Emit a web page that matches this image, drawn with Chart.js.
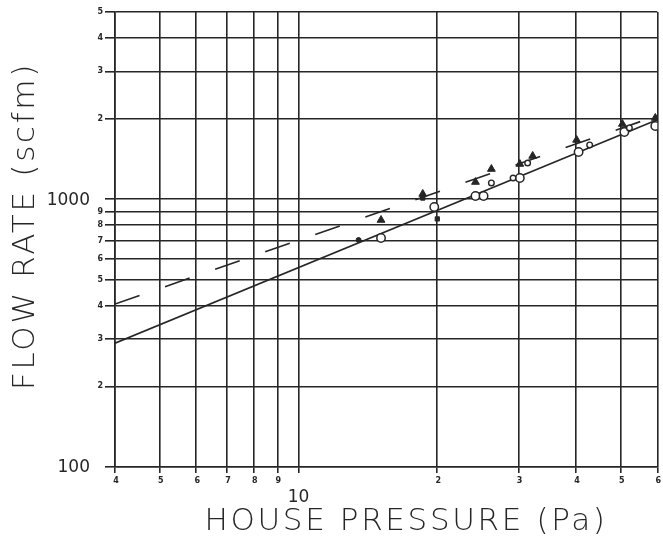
<!DOCTYPE html>
<html>
<head>
<meta charset="utf-8">
<script src="https://cdn.jsdelivr.net/npm/chart.js@4.4.1/dist/chart.umd.min.js"></script>
<style>
  html, body { margin: 0; padding: 0; background: #fff; }
  #wrap { width: 663px; height: 544px; }
</style>
</head>
<body>
<div id="wrap"><canvas id="chart" width="663" height="544"></canvas></div>
<script>
// Log-log flow vs. pressure plot

const xTicks = [4, 5, 6, 7, 8, 9, 10, 20, 30, 40, 50, 60];
const xTickLabels = ['4', '5', '6', '7', '8', '9', '10', '2', '3', '4', '5', '6'];
const yTicks = [100, 200, 300, 400, 500, 600, 700, 800, 900, 1000, 2000, 3000, 4000, 5000];
const yTickLabels = ['100', '2', '3', '4', '5', '6', '7', '8', '9', '1000', '2', '3', '4', '5'];

// fitted lines
const solidX = [4, 60];
const solidY = [290, 1980];
const dashX = [4, 60];
const dashY = [406, 2050];

// measured points
const triX = [15.1, 18.6, 24.2, 26.2, 30.2, 32.2, 40.1, 50.4, 59.4];
const triY = [836, 1046, 1159, 1296, 1353, 1450, 1664, 1909, 2010];
const circX = [15.1, 19.7, 24.2, 25.2, 30.2, 40.5, 50.9, 59.4];
const circY = [716, 935, 1028, 1028, 1200, 1501, 1782, 1876];
const smallCircX = [26.2, 29.2, 31.4, 42.8, 52.2];
const smallCircY = [1150, 1200, 1365, 1594, 1845];
const dotX = [13.5];
const dotY = [704];
const squareX = [18.6, 20.0];
const squareY = [1010, 844];

const INK = '#262626';

function pts(xs, ys) {
  return xs.map((x, i) => ({ x, y: ys[i] }));
}

const labelPlugin = {
  id: 'labels',
  afterDraw(chart) {
    const ctx = chart.ctx;
    const xs = chart.scales.x;
    const ys = chart.scales.y;
    ctx.save();
    ctx.fillStyle = INK;

    // y tick labels
    ctx.textAlign = 'right';
    ctx.textBaseline = 'middle';
    yTicks.forEach((v, i) => {
      const lab = yTickLabels[i];
      const py = ys.getPixelForValue(v);
      if (lab.length > 1) {
        ctx.font = '17px "DejaVu Sans"';
        ctx.fillText(lab, 90, py + 1);
      } else {
        ctx.font = 'bold 8px "DejaVu Sans"';
        ctx.fillText(lab, 103, py);
      }
    });

    // x tick labels
    ctx.textAlign = 'center';
    xTicks.forEach((v, i) => {
      const lab = xTickLabels[i];
      const px = xs.getPixelForValue(v);
      if (lab.length > 1) {
        ctx.font = '17px "DejaVu Sans"';
        ctx.fillText(lab, px, 498);
      } else {
        ctx.font = 'bold 8px "DejaVu Sans"';
        ctx.fillText(lab, px + 1, 481);
      }
    });

    // axis titles
    ctx.font = '300 31px "DejaVu Sans"';
    ctx.textBaseline = 'middle';
    const xt = 'HOUSE PRESSURE (Pa)';
    ctx.letterSpacing = '0px';
    let w = ctx.measureText(xt).width;
    ctx.letterSpacing = ((403 - w) / xt.length).toFixed(2) + 'px';
    ctx.fillText(xt, 406, 522);

    const yt = 'FLOW RATE (scfm)';
    ctx.letterSpacing = '0px';
    w = ctx.measureText(yt).width;
    ctx.letterSpacing = ((328 - w) / yt.length).toFixed(2) + 'px';
    ctx.translate(26, 226);
    ctx.rotate(-Math.PI / 2);
    ctx.fillText(yt, 0, 0);
    ctx.restore();
  }
};

new Chart(document.getElementById('chart'), {
  type: 'scatter',
  data: {
    datasets: [
      {
        data: pts(smallCircX, smallCircY),
        pointStyle: 'circle',
        pointRadius: 2.8,
        pointBorderWidth: 1.4,
        pointBorderColor: INK,
        pointBackgroundColor: '#fff',
        order: 1
      },
      {
        data: pts(circX, circY),
        pointStyle: 'circle',
        pointRadius: 4.2,
        pointBorderWidth: 1.5,
        pointBorderColor: INK,
        pointBackgroundColor: '#fff',
        order: 2
      },
      {
        data: pts(triX, triY),
        pointStyle: 'triangle',
        pointRadius: 4.5,
        pointBorderWidth: 1,
        pointBorderColor: INK,
        pointBackgroundColor: INK,
        order: 0
      },
      {
        data: pts(dotX, dotY),
        pointStyle: 'circle',
        pointRadius: 2.5,
        pointBorderWidth: 1,
        pointBorderColor: INK,
        pointBackgroundColor: INK,
        order: 0
      },
      {
        data: pts(squareX, squareY),
        pointStyle: 'rect',
        pointRadius: 3,
        pointBorderWidth: 1,
        pointBorderColor: INK,
        pointBackgroundColor: INK,
        order: 0
      },
      {
        type: 'line',
        data: pts(solidX, solidY),
        borderColor: INK,
        borderWidth: 1.6,
        pointRadius: 0,
        order: 5
      },
      {
        type: 'line',
        data: pts(dashX, dashY),
        borderColor: INK,
        borderWidth: 1.6,
        borderDash: [26, 27],
        pointRadius: 0,
        order: 5
      }
    ]
  },
  options: {
    responsive: false,
    animation: false,
    layout: { padding: { top: 12, right: 3, left: 0, bottom: 0 } },
    plugins: { legend: { display: false }, tooltip: { enabled: false } },
    scales: {
      x: {
        type: 'logarithmic',
        min: 4,
        max: 60,
        afterBuildTicks: s => { s.ticks = xTicks.map(v => ({ value: v })); },
        afterFit: s => { s.height = 77; },
        ticks: { display: false },
        grid: { color: INK, lineWidth: 1.6, tickLength: 6, drawTicks: true },
        border: { color: INK, width: 1.6 }
      },
      y: {
        type: 'logarithmic',
        min: 100,
        max: 5000,
        afterBuildTicks: s => { s.ticks = yTicks.map(v => ({ value: v })); },
        afterFit: s => { s.width = 115; },
        ticks: { display: false },
        grid: { color: INK, lineWidth: 1.6, tickLength: 10, drawTicks: true },
        border: { color: INK, width: 1.6 }
      }
    }
  },
  plugins: [labelPlugin]
});
</script>
</body>
</html>
